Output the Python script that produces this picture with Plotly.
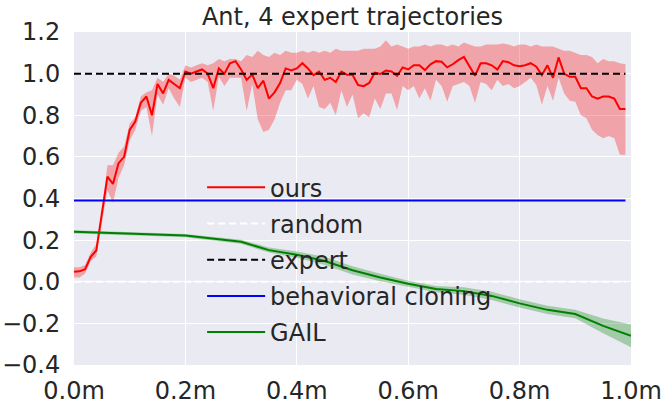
import plotly.graph_objects as go

# ---- data ----
steps = [round(i * 0.01, 2) for i in range(100)]
ours_mean = [0.048, 0.05, 0.06, 0.12, 0.15, 0.32, 0.505, 0.47, 0.57, 0.60,
             0.73, 0.77, 0.86, 0.89, 0.80, 0.95, 0.905, 0.97, 0.95, 0.93,
             1.01, 1.0, 1.01, 1.02, 1.0, 0.93, 1.025, 1.0, 1.05, 1.06,
             1.02, 0.97, 0.996, 0.93, 0.966, 0.88, 0.91, 0.955, 1.025, 1.015,
             1.025, 1.05, 1.025, 0.993, 1.01, 0.97, 0.98, 0.96, 1.01, 0.995,
             0.995, 0.945, 0.94, 0.955, 1.005, 0.998, 1.015, 1.01, 0.99, 1.03,
             1.02, 1.04, 1.04, 1.017, 1.045, 1.06, 1.057, 1.03, 1.045, 1.065,
             1.08, 1.033, 0.99, 1.05, 1.05, 1.04, 1.02, 1.06, 1.055, 1.04,
             1.036, 1.04, 1.05, 1.033, 0.993, 1.04, 0.98, 1.078, 1.0, 0.985,
             0.985, 0.93, 0.93, 0.89, 0.88, 0.89, 0.89, 0.88, 0.83, 0.83]
ours_upper = [0.07, 0.07, 0.08, 0.14, 0.18, 0.34, 0.56, 0.56, 0.62, 0.65,
              0.76, 0.79, 0.89, 0.91, 0.92, 0.98, 0.96, 1.0, 0.99, 0.97,
              1.04, 1.03, 1.04, 1.05, 1.04, 1.05, 1.07, 1.06, 1.07, 1.07,
              1.06, 1.09, 1.08, 1.11, 1.09, 1.08, 1.10, 1.09, 1.11, 1.10,
              1.10, 1.11, 1.10, 1.11, 1.10, 1.11, 1.10, 1.12, 1.11, 1.11,
              1.11, 1.11, 1.12, 1.12, 1.12, 1.13, 1.16, 1.13, 1.14, 1.13,
              1.12, 1.13, 1.13, 1.14, 1.13, 1.14, 1.14, 1.13, 1.14, 1.13,
              1.15, 1.14, 1.13, 1.13, 1.14, 1.14, 1.14, 1.145, 1.14, 1.13,
              1.14, 1.14, 1.13, 1.14, 1.13, 1.13, 1.13, 1.12, 1.11, 1.11,
              1.10, 1.09, 1.09, 1.08, 1.05, 1.07, 1.06, 1.06, 1.05, 1.045]
ours_lower = [0.02, 0.02, 0.04, 0.10, 0.12, 0.28, 0.44, 0.38, 0.50, 0.56,
              0.68, 0.73, 0.82, 0.84, 0.70, 0.90, 0.85, 0.93, 0.88, 0.84,
              0.98, 0.96, 0.97, 0.98, 0.96, 0.82, 0.985, 0.94, 0.98, 0.98,
              0.98, 0.82, 0.95, 0.78, 0.72, 0.73, 0.78, 0.86, 0.92, 0.92,
              0.97, 0.95, 0.88, 0.94, 0.84, 0.83, 0.86, 0.80, 0.92, 0.84,
              0.90, 0.785, 0.81, 0.79, 0.88, 0.83, 0.905, 0.905, 0.825, 0.94,
              0.92, 0.94, 0.88, 0.93, 0.87, 0.97, 0.94, 0.865, 0.94, 0.95,
              0.96, 0.94, 0.86, 0.96, 0.95, 0.92, 0.97, 0.94, 0.95, 0.93,
              0.94, 0.96, 0.98, 0.945, 0.85, 0.94, 0.87, 0.98, 0.905, 0.87,
              0.865, 0.80, 0.785, 0.73, 0.705, 0.69, 0.70, 0.69, 0.61, 0.61]

random_score = 0.0
expert_score = 1.0
bc_score = 0.39

gail_steps = [0.0, 0.1, 0.2, 0.3, 0.35, 0.4, 0.45, 0.5, 0.55, 0.6,
              0.65, 0.7, 0.75, 0.8, 0.85, 0.9, 0.95, 1.0]
gail_mean = [0.24, 0.232, 0.222, 0.192, 0.152, 0.13, 0.10, 0.055, 0.02, -0.01,
             -0.035, -0.045, -0.068, -0.104, -0.135, -0.155, -0.212, -0.26]
gail_err = [0.008, 0.008, 0.008, 0.01, 0.012, 0.015, 0.02, 0.02, 0.018, 0.015,
            0.015, 0.018, 0.02, 0.02, 0.02, 0.02, 0.035, 0.055]

title_text = "Ant, 4 expert trajectories"
y_ticks = [-0.4, -0.2, 0.0, 0.2, 0.4, 0.6, 0.8, 1.0, 1.2]
x_ticks = [0.0, 0.2, 0.4, 0.6, 0.8, 1.0]
x_tick_labels = ["%.1fm" % v for v in x_ticks]
y_tick_labels = [("%.1f" % v).replace("-", "\u2212") for v in y_ticks]

# ---- figure ----
FONT = "DejaVu Sans"
TXT = "#262626"
DASH = "7px,4px"
fig = go.Figure()

fig.add_trace(go.Scatter(
    x=steps + steps[::-1], y=ours_upper + ours_lower[::-1],
    fill="toself", fillcolor="rgba(255,0,0,0.3)", line=dict(width=0),
    hoverinfo="skip", showlegend=False, legendgroup="g1"))
fig.add_trace(go.Scatter(x=steps, y=ours_mean, mode="lines", name="ours",
                         legendgroup="g1",
                         line=dict(color="#ff0000", width=2)))
fig.add_trace(go.Scatter(x=steps, y=[random_score] * len(steps), mode="lines",
                         name="random", legendgroup="g2",
                         line=dict(color="#ffffff", width=2, dash=DASH)))
fig.add_trace(go.Scatter(x=steps, y=[expert_score] * len(steps), mode="lines",
                         name="expert", legendgroup="g3",
                         line=dict(color="#000000", width=2, dash=DASH)))
fig.add_trace(go.Scatter(x=steps, y=[bc_score] * len(steps), mode="lines",
                         name="behavioral cloning", legendgroup="g4",
                         line=dict(color="#0000ff", width=2)))
g_up = [m + e for m, e in zip(gail_mean, gail_err)]
g_lo = [m - e for m, e in zip(gail_mean, gail_err)]
fig.add_trace(go.Scatter(
    x=gail_steps + gail_steps[::-1], y=g_up + g_lo[::-1],
    fill="toself", fillcolor="rgba(0,128,0,0.3)", line=dict(width=0),
    hoverinfo="skip", showlegend=False, legendgroup="g5"))
fig.add_trace(go.Scatter(x=gail_steps, y=gail_mean, mode="lines", name="GAIL",
                         legendgroup="g5",
                         line=dict(color="#008000", width=2)))

fig.update_layout(
    width=668, height=404, autosize=False,
    margin=dict(l=74, r=37, t=32, b=39, autoexpand=False),
    paper_bgcolor="white", plot_bgcolor="#EAEAF2",
    font=dict(family=FONT, size=24, color=TXT),
    title=dict(text=title_text, x=0.5, xanchor="center", xref="paper",
               y=1 - 17 / 404, yanchor="middle", automargin=False,
               font=dict(size=24, color=TXT)),
    legend=dict(x=0.23, y=0.6, xanchor="left", yanchor="top",
                bgcolor="rgba(0,0,0,0)", font=dict(size=24, color=TXT),
                itemwidth=58, tracegroupgap=2, traceorder="grouped"),
    showlegend=True,
)
fig.update_xaxes(range=[0, 1], tickvals=x_ticks, ticktext=x_tick_labels,
                 showgrid=True, gridcolor="white", automargin=False,
                 gridwidth=1, zeroline=False, showline=False,
                 ticks="outside", ticklen=4, tickcolor="rgba(0,0,0,0)")
fig.update_yaxes(range=[-0.4, 1.2], tickvals=y_ticks, ticktext=y_tick_labels,
                 showgrid=True, gridcolor="white", gridwidth=1,
                 automargin=False, zeroline=False, showline=False,
                 ticks="outside", ticklen=8, tickcolor="rgba(0,0,0,0)")

fig.write_html("out.html",
               config={"displayModeBar": False},
               post_script="document.body.style.margin='0';"
                           "document.body.style.padding='0';")
